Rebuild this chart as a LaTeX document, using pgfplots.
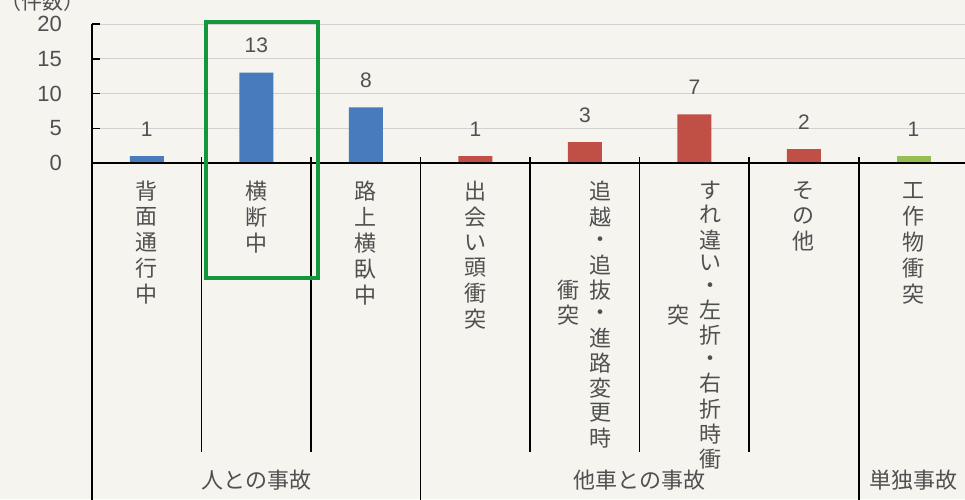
\documentclass[border=0pt]{standalone}
\usepackage{pgfplots}
\pgfplotsset{compat=1.18}
\usepackage{fontspec}
\setmainfont{Liberation Sans}
\newfontfamily\jp{Noto Sans CJK JP}
\definecolor{paper}{RGB}{245,244,239}
\definecolor{txt}{RGB}{80,80,80}
\definecolor{cblue}{RGB}{70,123,190}
\definecolor{cred}{RGB}{192,80,70}
\definecolor{cgreen}{RGB}{150,190,80}
\definecolor{boxgreen}{RGB}{20,150,60}
\newcommand{\vs}[2]{{\jp\fontsize{22}{#1}\selectfont\begin{tabular}{@{}c@{}}#2\end{tabular}}}
\begin{document}
\begin{tikzpicture}[x=1pt,y=1pt]
\fill[paper] (0,0) rectangle (965,499);
\node[txt,font=\jp\fontsize{21}{24}\selectfont,anchor=center] at (42,497) {（件数）};
\begin{axis}[
  at={(92pt,336pt)}, anchor=south west,
  scale only axis, width=873pt, height=139pt,
  xmin=-0.5, xmax=7.47, ymin=0, ymax=20,
  clip=false,
  axis y line*=left, axis x line*=bottom,
  axis line style={line width=1.8pt, black},
  xtick=\empty,
  ytick={0,5,10,15,20},
  ytick align=inside,
  major tick length=8pt,
  every tick/.style={line width=1.5pt, black},
  ymajorgrids,
  grid style={line width=0.8pt, black!18},
  /pgf/number format/assume math mode=true,
  yticklabel style={font=\fontsize{22}{24}\selectfont, text=txt, anchor=east, inner sep=0pt, xshift=-30pt},
  ybar, bar width=34pt, bar shift=0pt,
  nodes near coords,
  every node near coord/.append style={font=\fontsize{21}{24}\selectfont, text=txt, anchor=base, yshift=20pt, inner sep=0pt},
]
\addplot[fill=cblue, draw=none] coordinates {(0,1) (1,13) (2,8)};
\addplot[fill=cred, draw=none] coordinates {(3,1) (4,3) (5,7) (6,2)};
\addplot[fill=cgreen, draw=none] coordinates {(7,1)};
% separators
\foreach \s in {0.5,1.5,3.5,4.5,5.5} {
  \edef\tmp{\noexpand\draw[line width=1.6pt, black] (axis cs:\s,0.86) -- (axis cs:\s,-41.6);}\tmp
}
\foreach \s in {-0.5,2.5,6.5} {
  \edef\tmp{\noexpand\draw[line width=1.6pt, black] (axis cs:\s,0.86) -- (axis cs:\s,-52);}\tmp
}
\draw[line width=1.8pt, black] (axis cs:-0.5,0) -- (axis cs:7.6,0);
% category labels
\node[anchor=north, inner sep=0pt, text=txt] at (axis cs:0,-2.6) {\vs{25}{背\\面\\通\\行\\中}};
\node[anchor=north, inner sep=0pt, text=txt] at (axis cs:1,-2.6) {\vs{25}{横\\断\\中}};
\node[anchor=north, inner sep=0pt, text=txt] at (axis cs:2,-2.6) {\vs{25}{路\\上\\横\\臥\\中}};
\node[anchor=north, inner sep=0pt, text=txt] at (axis cs:3,-2.6) {\vs{25}{出\\会\\い\\頭\\衝\\突}};
\node[anchor=north, inner sep=0pt, text=txt] at (axis cs:4.14,-2.6) {\vs{22.6}{追\\越\\・\\追\\抜\\・\\進\\路\\変\\更\\時}};
\node[anchor=north, inner sep=0pt, text=txt] at (axis cs:3.85,-16.8) {\vs{22.6}{衝\\突}};
\node[anchor=north, inner sep=0pt, text=txt] at (axis cs:5.15,-2.6) {\vs{22.6}{す\\れ\\違\\い\\・\\左\\折\\・\\右\\折\\時\\衝}};
\node[anchor=north, inner sep=0pt, text=txt] at (axis cs:4.85,-20.4) {\vs{22.6}{突}};
\node[anchor=north, inner sep=0pt, text=txt] at (axis cs:6,-2.6) {\vs{25}{そ\\の\\他}};
\node[anchor=north, inner sep=0pt, text=txt] at (axis cs:7,-2.6) {\vs{25}{工\\作\\物\\衝\\突}};
% group labels
\node[text=txt, font=\jp\fontsize{22}{24}\selectfont] at (axis cs:1,-45.6) {人との事故};
\node[text=txt, font=\jp\fontsize{22}{24}\selectfont] at (axis cs:4.5,-45.6) {他車との事故};
\node[text=txt, font=\jp\fontsize{22}{24}\selectfont] at (axis cs:7,-45.6) {単独事故};
% highlight box
\draw[line width=4pt, boxgreen] (axis cs:0.54,20.3) rectangle (axis cs:1.56,-16.5);
\end{axis}
\pgfresetboundingbox
\useasboundingbox (0,0) rectangle (965,499);
\end{tikzpicture}
\end{document}
